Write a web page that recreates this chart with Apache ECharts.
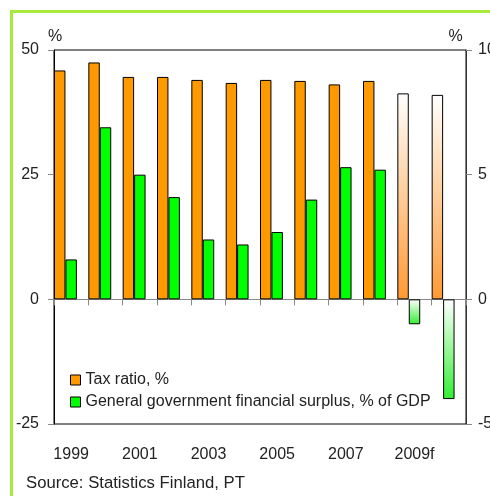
<!DOCTYPE html>
<html>
<head>
<meta charset="utf-8">
<script src="https://cdn.jsdelivr.net/npm/echarts@6/dist/echarts.min.js"></script>
<style>
html,body{margin:0;padding:0;background:#fff;}
#chart{width:490px;height:496px;}
</style>
</head>
<body>
<div id="chart"></div>
<script>
// ---- data ----
const years = ['1999','2000','2001','2002','2003','2004','2005','2006','2007','2008','2009f','2010f'];
const taxRatio = [45.9, 47.5, 44.6, 44.6, 44.0, 43.4, 44.0, 43.8, 43.1, 43.8, 41.3, 41.0];
const surplus = [1.6, 6.9, 5.0, 4.1, 2.4, 2.2, 2.7, 4.0, 5.3, 5.2, -1.0, -4.0];
const forecast = [false,false,false,false,false,false,false,false,false,false,true,true];
const leftTicks = { min: -25, max: 50, interval: 25 };
const rightTicks = { min: -5, max: 10, interval: 5 };
const seriesNames = ['Tax ratio, %', 'General government financial surplus, % of GDP'];
const sourceText = 'Source: Statistics Finland, PT';

const FONT = "'Liberation Sans', Arial, sans-serif";
const FS = 16;
const TXT = '#222';
const ORANGE = '#ff9900';
const GREEN = '#00ff00';

function grad(top, bottom) {
  return new echarts.graphic.LinearGradient(0, 0, 0, 1, [
    { offset: 0, color: top },
    { offset: 1, color: bottom }
  ]);
}

const taxData = taxRatio.map((v, i) => forecast[i]
  ? { value: v, itemStyle: { color: grad('#ffffff', '#ff9933') } }
  : v);
const surplusData = surplus.map((v, i) => forecast[i]
  ? { value: v, itemStyle: { color: grad('#ffffff', '#33ee33') } }
  : v);

const chart = echarts.init(document.getElementById('chart'), null, { renderer: 'canvas' });

chart.setOption({
  animation: false,
  backgroundColor: '#fff',
  textStyle: { fontFamily: FONT },
  grid: {
    left: 54, right: 24, top: 50, bottom: 72,
    containLabel: false, outerBoundsMode: 'none',
    show: true, borderColor: '#000', borderWidth: 1, backgroundColor: 'transparent'
  },
  legend: {
    orient: 'vertical',
    left: 70, top: 372, padding: 0,
    itemWidth: 10, itemHeight: 10, itemGap: 6,
    icon: 'rect',
    data: seriesNames,
    textStyle: { fontFamily: FONT, fontSize: FS, color: TXT },
    itemStyle: { borderColor: '#000', borderWidth: 1 }
  },
  xAxis: [
    {
      type: 'category', data: years, gridIndex: 0, position: 'bottom',
      axisLine: { onZero: true, lineStyle: { color: '#888', width: 1 } },
      axisTick: { show: true, interval: 0, length: 6, lineStyle: { color: '#888' } },
      axisLabel: { show: false },
      splitLine: { show: false }
    },
    {
      type: 'category', data: years, gridIndex: 0, position: 'bottom',
      axisLine: { show: false, onZero: false },
      axisTick: { show: false },
      axisLabel: { show: true, interval: 1, margin: 23, fontFamily: FONT, fontSize: FS, color: TXT },
      splitLine: { show: false }
    }
  ],
  yAxis: [
    {
      type: 'value', position: 'left',
      min: leftTicks.min, max: leftTicks.max, interval: leftTicks.interval,
      name: '%', nameLocation: 'end', nameGap: 5,
      nameTextStyle: { fontFamily: FONT, fontSize: FS, color: TXT, padding: [0, 0, 0, 2] },
      axisLine: { show: true, lineStyle: { color: '#000' } },
      axisTick: { show: true, length: 6, lineStyle: { color: '#888' } },
      axisLabel: { margin: 15, fontFamily: FONT, fontSize: FS, color: TXT, padding: [6, 0, 0, 0] },
      splitLine: { show: false }
    },
    {
      type: 'value', position: 'right',
      min: rightTicks.min, max: rightTicks.max, interval: rightTicks.interval,
      name: '%', nameLocation: 'end', nameGap: 5,
      nameTextStyle: { fontFamily: FONT, fontSize: FS, color: TXT, padding: [0, 21, 0, 0] },
      axisLine: { show: true, lineStyle: { color: '#333' } },
      axisTick: { show: true, length: 6, lineStyle: { color: '#888' } },
      axisLabel: { margin: 12, fontFamily: FONT, fontSize: FS, color: TXT, padding: [6, 0, 0, 0] },
      splitLine: { show: false }
    }
  ],
  series: [
    {
      name: seriesNames[0], type: 'bar', xAxisIndex: 0, yAxisIndex: 0,
      data: taxData, barWidth: '33.33%', barGap: '0%',
      itemStyle: { color: ORANGE, borderColor: '#000', borderWidth: 1 }
    },
    {
      name: seriesNames[1], type: 'bar', xAxisIndex: 0, yAxisIndex: 1,
      data: surplusData, barWidth: '33.33%', barGap: '0%',
      itemStyle: { color: GREEN, borderColor: '#000', borderWidth: 1 }
    },
    {
      name: 'spacer', type: 'bar', xAxisIndex: 0, yAxisIndex: 0,
      data: years.map(() => '-'), barWidth: '33.33%', barGap: '0%',
      silent: true, itemStyle: { color: 'transparent' }
    }
  ],
  graphic: [
    {
      type: 'rect', silent: true,
      shape: { x: 11.5, y: 11.5, width: 600, height: 600 },
      style: { fill: 'none', stroke: '#a6ea3c', lineWidth: 3 }
    },
    {
      type: 'text', silent: true,
      style: { x: 26, y: 483, text: sourceText, fontFamily: FONT, fontSize: 16.7, fill: TXT, verticalAlign: 'middle', align: 'left' }
    }
  ]
});
</script>
</body>
</html>
